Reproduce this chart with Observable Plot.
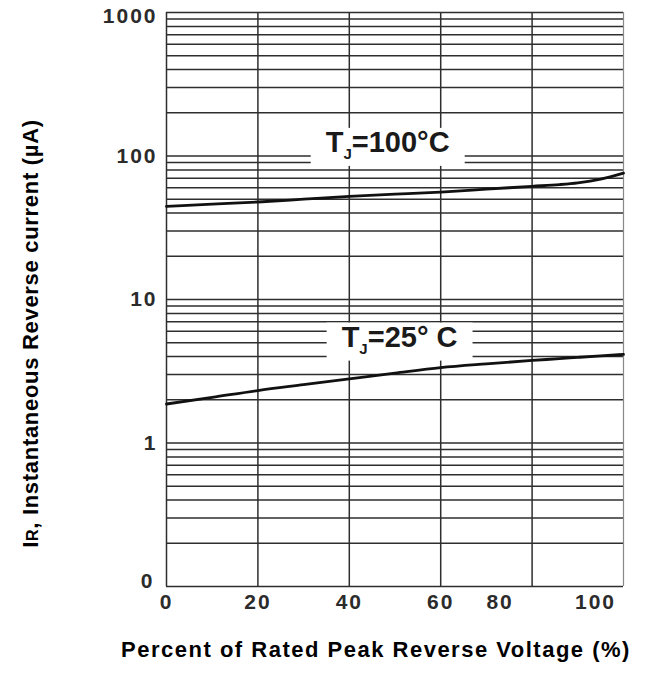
<!DOCTYPE html>
<html><head><meta charset="utf-8">
<script src="https://cdn.jsdelivr.net/npm/d3@7"></script>
<script src="https://cdn.jsdelivr.net/npm/@observablehq/plot@0.6"></script>
<style>
body{margin:0;background:#fff}
g[aria-description="ticklabels"] text{letter-spacing:2px}
g[aria-description="xtitle"] text{letter-spacing:1.5px}
g[aria-description="ytitle"] text{letter-spacing:0.7px}
</style>
</head><body><div id="chart"></div>
<script>
// Data
const voltagePct = [0, 10, 20, 30, 40, 50, 60, 70, 80, 86, 90, 95, 100];
const current100 = [44.6, 46.2, 47.8, 50.0, 52.4, 54.2, 56.1, 58.7, 61.5, 63.2, 65.0, 69.0, 76.0];
const current25  = [1.87, 2.08, 2.32, 2.55, 2.80, 3.07, 3.35, 3.56, 3.76, 3.87, 3.95, 4.05, 4.14];
const curveLabels = ["TJ=100°C", "TJ=25° C"];
const labelX = [48.4, 51];
const labelY = [124, 5.45];
const xGridTicks = [0, 20, 40, 60, 80, 100];
const yLabelTicks = [0.1, 1, 10, 100, 1000];
const yTickText = ["0", "1", "10", "100", "1000"];
const decades = [0.1, 1, 10, 100];
const mantissas = [1, 2, 3, 4, 5, 6, 7, 8, 9];
const xTitle = "Percent of Rated Peak Reverse Voltage (%)";
const yTitle = "IR, Instantaneous Reverse current (µA)";

const rows100 = voltagePct.map((v, i) => ({v, c: current100[i]}));
const rows25 = voltagePct.map((v, i) => ({v, c: current25[i]}));
const labels = curveLabels.map((t, i) => ({t, x: labelX[i], y: labelY[i]}));
const yGrid = decades.flatMap(d => mantissas.map(m => +(d * m).toPrecision(3))).concat([1000]);
const fmtY = d => yTickText[yLabelTicks.indexOf(d)];

const font = "'Liberation Sans', Arial, Helvetica, sans-serif";
const tickStyle = {tickSize: 0, fontSize: 21, fontWeight: "bold", fill: "#2b2b2b", ariaDescription: "ticklabels"};

const chart = Plot.plot({
  width: 659, height: 676,
  marginLeft: 166, marginRight: 36, marginTop: 12, marginBottom: 90,
  x: {domain: [0, 100], axis: null},
  y: {type: "log", domain: [0.1, 1000], axis: null},
  style: {fontFamily: font, background: "white", color: "#111"},
  marks: [
    Plot.gridY(yGrid, {stroke: "#2e2e2e", strokeOpacity: 1, strokeWidth: 1.5}),
    Plot.gridX(xGridTicks.slice(0, 5), {stroke: "#2e2e2e", strokeOpacity: 1, strokeWidth: 1.5}),
    Plot.gridX([xGridTicks[5]], {stroke: "#888", strokeOpacity: 1, strokeWidth: 1.2}),
    Plot.line(rows100, {x: "v", y: "c", curve: "monotone-x", stroke: "#111", strokeWidth: 2.8}),
    Plot.line(rows25, {x: "v", y: "c", curve: "monotone-x", stroke: "#111", strokeWidth: 2.8}),
    Plot.text(labels, {x: "x", y: "y", text: "t", fontSize: 29, fontWeight: "bold", fill: "#1a1a1a", ariaDescription: "tj-label"}),
    Plot.axisY([1000], {...tickStyle, tickPadding: 9, dy: 4, tickFormat: fmtY}),
    Plot.axisY([1, 10, 100], {...tickStyle, tickPadding: 9, tickFormat: fmtY}),
    Plot.axisY([0.1], {...tickStyle, tickPadding: 12, dy: -5, tickFormat: fmtY}),
    Plot.axisX(xGridTicks.slice(0, 4), {...tickStyle, tickPadding: 8}),
    Plot.axisX([xGridTicks[4]], {...tickStyle, tickPadding: 8, dx: -32}),
    Plot.axisX([xGridTicks[5]], {...tickStyle, tickPadding: 8, dx: -28}),
    Plot.text([xTitle], {frameAnchor: "bottom", dy: 70, dx: -19, fontSize: 22, fontWeight: "bold", fill: "#000", ariaDescription: "xtitle"}),
    Plot.text([yTitle], {frameAnchor: "left", textAnchor: "middle", dx: -136, dy: 34, rotate: -90, fontSize: 22, fontWeight: "bold", fill: "#000", ariaDescription: "ytitle"})
  ]
});
document.getElementById("chart").append(chart);

const ns = "http://www.w3.org/2000/svg";
function splitSmall(t, idx, size, shift) {
  const s = t.textContent;
  t.textContent = "";
  const a = document.createElementNS(ns, "tspan"); a.textContent = s.slice(0, idx);
  const b = document.createElementNS(ns, "tspan"); b.textContent = s.slice(idx, idx + 1);
  b.setAttribute("font-size", size);
  if (shift) b.setAttribute("dy", shift);
  const c = document.createElementNS(ns, "tspan"); c.textContent = s.slice(idx + 1);
  if (shift) c.setAttribute("dy", -shift);
  t.append(a, b, c);
}
chart.querySelectorAll('g[aria-description="tj-label"] text').forEach(t => {
  splitSmall(t, 1, 15, 7);
  const bb = t.getBBox();
  const r = document.createElementNS(ns, "rect");
  r.setAttribute("x", bb.x - 15);
  r.setAttribute("y", bb.y + 2);
  r.setAttribute("width", bb.width + 30);
  r.setAttribute("height", bb.height + 2);
  r.setAttribute("fill", "white");
  if (t.getAttribute("transform")) r.setAttribute("transform", t.getAttribute("transform"));
  t.parentNode.insertBefore(r, t);
});
chart.querySelectorAll('g[aria-description="ytitle"] text').forEach(t => splitSmall(t, 1, 16, 0));
</script>
</body></html>
